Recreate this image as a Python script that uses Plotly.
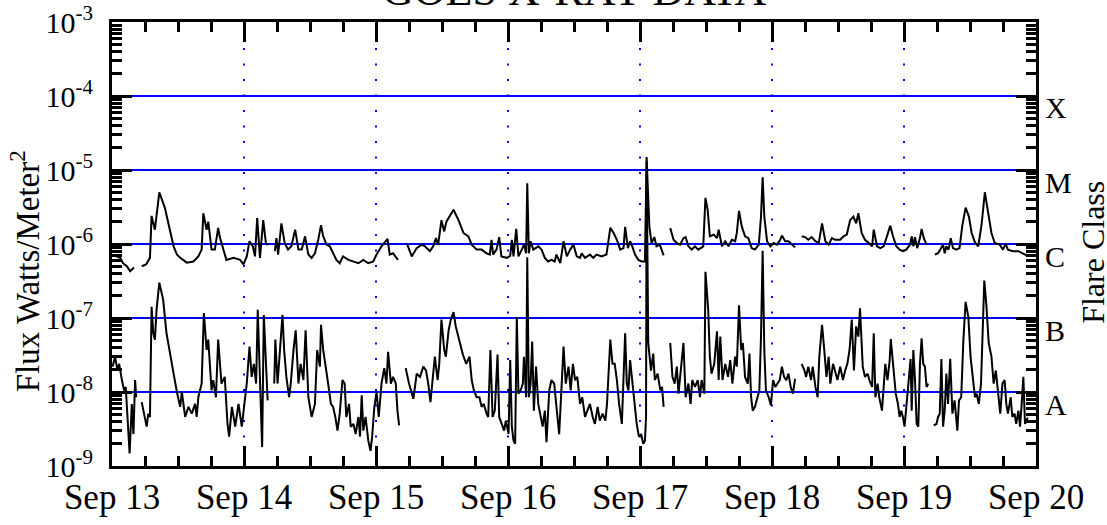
import math
import pandas as pd
import plotly.graph_objects as go

# ---------------- data (hours since Sep 13 00:00, flux W/m^2) ----------------
long_hours = [0.0, 1.5, 2.0, 2.7, 3.3, 4.0, 4.7,
    5.4, 6.2, 6.9, 7.2, 7.8, 8.6, 9.6, 10.5, 11.2, 11.8, 12.4, 13.6, 14.8, 15.7, 16.3, 16.6, 17.2, 17.5,
    18.1, 18.7, 19.3, 19.6, 20.2, 20.8, 22.1, 23.3, 23.9, 24.5, 25.0, 25.6, 26.0, 26.4, 26.9, 27.5, 28.0, 28.4, 28.9,
    29.6, 29.9, 30.2, 30.8, 31.4, 32.0, 32.6, 33.3, 33.9, 34.5, 35.1, 35.7, 36.3, 36.9, 37.5, 38.0, 38.4,
    39.0, 39.6, 40.2, 40.8, 41.4, 42.0, 43.0, 43.9, 44.8, 45.7, 46.6, 47.5, 48.1, 49.0, 50.1, 50.5, 51.1, 52.0, 52.7,
    53.6, 54.5, 55.4, 56.3, 56.9, 57.8, 58.4, 58.9, 59.3, 59.9, 60.4, 60.8, 62.1, 63.0, 63.9, 64.8, 65.4,
    66.3, 67.2, 68.1, 68.7, 69.0, 69.3, 69.9, 70.4, 70.8, 71.8, 72.4, 72.7, 73.0, 73.5, 73.9, 74.5, 74.9,
    75.3, 75.5, 75.8, 76.1, 76.6, 77.5, 78.1, 78.7, 79.3, 79.9, 80.5, 80.8, 81.5, 82.1, 82.7, 83.3, 83.9,
    84.5, 85.1, 85.4, 86.0, 86.9, 87.5, 88.1, 89.0, 89.9, 90.6, 91.2, 91.8, 92.4, 93.0, 93.3, 93.8, 94.2,
    94.6, 95.1, 95.7, 96.3, 96.9, 97.2, 97.7, 98.1, 98.6, 99.0, 99.6, 100.3, 100.9,
    101.5, 102.1, 102.7, 103.3, 103.9, 104.3, 104.8, 105.4, 106.0, 106.6, 107.5, 107.9, 108.3, 108.7,
    109.4, 110.0, 110.3, 110.9, 111.5, 112.1, 112.7, 113.3, 113.6, 114.0, 114.5, 115.1, 115.7, 116.3,
    116.9, 117.6, 118.0, 118.3, 118.6, 119.1, 119.7, 120.3, 120.9, 121.5, 121.8, 122.4, 123.0, 123.6, 124.2, 124.8,
    125.4, 126.0, 126.6, 127.2, 127.9, 128.5, 129.1, 129.7, 130.3, 130.9, 131.5, 132.4, 133.0, 133.6,
    134.2, 134.8, 135.3, 135.7, 136.3, 136.9, 137.6, 138.2, 138.5, 139.1, 139.7, 140.3, 140.9, 141.5,
    142.0, 142.6, 143.2, 143.8, 144.4, 145.1, 145.4, 145.7, 146.0, 146.4, 146.9, 147.2, 147.6, 148.1, 148.8,
    149.6, 150.2, 150.6, 151.1, 151.4, 151.7, 152.1, 152.5, 152.9, 153.5, 154.1, 154.6, 155.2, 155.8,
    156.3, 156.9, 157.5, 158.1, 158.7, 159.3, 159.9, 160.5, 161.4, 162.0, 162.5, 162.9, 163.8, 164.8,
    165.4, 166.0, 166.6]
long_flux = [7.2e-7, 6.5e-7, 5.5e-7, 5.0e-7, 4.3e-7, 4.8e-7, None,
    5.0e-7, 5.3e-7, 6.5e-7, 2.4e-6, 1.56e-6, 5.0e-6, 3.1e-6, 1.56e-6, 9.3e-7, 7.2e-7, 6.5e-7, 5.6e-7, 5.8e-7, 6.8e-7, 8.4e-7, 2.6e-6, 1.56e-6, 2.0e-6,
    8.4e-7, 8.4e-7, 1.65e-6, 1.24e-6, 8.4e-7, 6.1e-7, 6.5e-7, 6.1e-7, 5.3e-7, 6.8e-7, 1.09e-6, 9.3e-7, 6.8e-7, 2.25e-6, 6.5e-7, 2.1e-6, 1.0e-6, 9.8e-7, None,
    8.0e-7, 1.2e-6, 7.2e-7, 1.9e-6, 1.03e-6, 8.4e-7, 9.3e-7, 1.56e-6, 8.4e-7, 8.4e-7, 1.27e-6, 7.2e-7, 6.5e-7, 7.5e-7, 1.14e-6, 1.8e-6, 1.27e-6,
    9.8e-7, 9.3e-7, 7.5e-7, 6.1e-7, 5.5e-7, 6.8e-7, 6.1e-7, 5.8e-7, 5.5e-7, 6.1e-7, 5.5e-7, 5.8e-7, 7.2e-7, 9.3e-7, 1.17e-6, 7.2e-7, 7.5e-7, 6.1e-7, None,
    1.03e-6, 6.8e-7, 8.8e-7, 9.8e-7, 9.3e-7, 8.0e-7, 9.3e-7, 1.2e-6, 9.8e-7, 2.1e-6, 1.48e-6, 2.0e-6, 2.9e-6, 2.1e-6, 1.41e-6, 1.27e-6, 9.8e-7,
    8.4e-7, 8.4e-7, 7.5e-7, 7.2e-7, 1.14e-6, 7.2e-7, 8.4e-7, 1.24e-6, 6.8e-7, 6.5e-7, 6.9e-7, 1.14e-6, 6.8e-7, 1.6e-6, 6.8e-7, 8.4e-7, 9.8e-7,
    7.5e-7, 6.6e-6, 7.5e-7, 1.09e-6, 8.4e-7, 9.3e-7, 8.4e-7, 6.5e-7, 5.8e-7, 6.1e-7, 5.8e-7, 7.2e-7, 5.5e-7, 1.09e-6, 6.8e-7, 8.4e-7, 9.8e-7,
    6.8e-7, 6.5e-7, 7.5e-7, 6.5e-7, 7.2e-7, 6.5e-7, 7.2e-7, 6.8e-7, 7.2e-7, 1.65e-6, 1.41e-6, 1.14e-6, 8.4e-7, 8.8e-7, 1.7e-6, 8.8e-7, 1.09e-6,
    9.3e-7, 7.2e-7, 6.1e-7, 5.8e-7, 5.8e-7, 1.5e-5, 1.73e-6, 1.03e-6, 1.24e-6, 9.3e-7, 9.8e-7, 7.0e-7, None,
    1.65e-6, 1.14e-6, 1.03e-6, 9.8e-7, 1.2e-6, 1.24e-6, 9.3e-7, 8.4e-7, 9.3e-7, 8.4e-7, 9.3e-7, 4.2e-6, 2.9e-6, 1.27e-6,
    1.34e-6, 1.2e-6, 1.56e-6, 9.3e-7, 1.09e-6, 9.3e-7, 1.14e-6, 1.09e-6, 1.41e-6, 2.8e-6, 1.73e-6, 1.27e-6, 1.2e-6, 8.8e-7,
    8.4e-7, 9.8e-7, 2.35e-6, 8.0e-6, 2.35e-6, 1.09e-6, 9.3e-7, 1.03e-6, 9.8e-7, 1.14e-6, 1.3e-6, 1.09e-6, 1.09e-6, 9.8e-7, 9.0e-7, None,
    1.27e-6, 1.24e-6, 1.14e-6, 1.24e-6, 1.09e-6, 1.03e-6, 1.9e-6, 1.09e-6, 9.8e-7, 1.2e-6, 1.14e-6, 1.14e-6, 1.27e-6, 1.34e-6,
    2.1e-6, 2.35e-6, 1.9e-6, 2.6e-6, 1.41e-6, 1.14e-6, 1.03e-6, 9.3e-7, 1.56e-6, 9.3e-7, 8.8e-7, 9.3e-7, 1.27e-6, 1.77e-6,
    1.27e-6, 9.3e-7, 8.4e-7, 8.0e-7, 8.4e-7, 9.8e-7, 1.27e-6, 9.3e-7, 1.24e-6, 8.8e-7, 1.2e-6, 1.6e-6, 1.2e-6, 9.8e-7, None,
    7.2e-7, 7.5e-7, 8.4e-7, 9.8e-7, 7.5e-7, 9.3e-7, 8.4e-7, 1.2e-6, 8.8e-7, 8.4e-7, 8.8e-7, 1.77e-6, 3.1e-6, 2.35e-6,
    1.41e-6, 1.05e-6, 9.3e-7, 1.82e-6, 5.0e-6, 2.6e-6, 1.41e-6, 1.03e-6, 9.8e-7, 8.4e-7, 1.0e-6, 8.4e-7, 8.0e-7, 8.0e-7,
    7.5e-7, 7.2e-7, 7.0e-7]

short_hours = [0.1, 0.55, 1.0, 1.3, 1.8, 2.2, 2.5, 2.8, 3.2, 3.6, 3.9, 4.2, 4.4, 4.9,
    5.4, 5.7, 6.3, 6.6, 6.9, 7.2, 7.5, 7.8, 8.1, 8.6, 9.3, 9.9, 10.5, 11.2, 11.8, 12.4, 12.7, 13.3, 13.9,
    14.5, 15.1, 15.4, 15.7, 16.3, 16.7, 17.2, 17.5, 18.1, 18.4, 18.9, 19.3, 19.9, 20.5, 21.0, 21.3, 21.8,
    22.4, 23.0, 23.6, 23.9, 24.2, 24.5, 25.0, 25.4, 25.8, 26.2, 26.5, 27.0, 27.3, 27.6, 28.1, 28.3, 28.9,
    29.5, 29.7, 30.1, 30.5, 31.0, 31.3, 31.7, 32.2, 32.5, 33.0, 33.4, 33.9, 34.3, 34.8, 35.2, 35.7, 36.3,
    36.9, 37.3, 37.8, 38.0, 38.4, 38.8, 39.3, 39.8, 40.2, 40.6, 41.0, 41.4, 41.9, 42.3, 42.6, 43.1, 43.4,
    43.9, 44.3, 44.8, 45.1, 45.4, 45.7, 46.1, 46.6, 47.0, 47.3, 47.7, 48.1, 48.5, 49.0, 49.5, 49.9, 50.2,
    50.7, 51.1, 51.6, 51.9, 52.2, 52.8,
    53.4, 54.0, 54.8, 55.4, 56.0, 56.6, 57.1, 57.5, 57.9, 58.3, 58.7, 59.2, 59.5, 59.9, 60.4, 60.7, 61.2,
    61.6, 62.1, 62.5, 63.2, 63.8, 64.4, 65.0, 65.4, 65.8, 66.3, 66.8, 67.2, 67.6, 68.1, 68.4, 68.8, 69.2,
    69.6, 70.1, 70.4, 70.8, 71.3, 71.6, 72.1, 72.4, 72.7, 73.0, 73.3, 73.6, 73.9, 74.3, 74.7, 74.9, 75.3,
    75.5, 75.8, 76.1, 76.4, 76.7, 77.1, 77.5, 77.9, 78.3, 78.7, 79.0, 79.5, 79.9, 80.4, 80.8, 81.3, 81.8,
    82.1, 82.5, 83.0, 83.4, 83.8, 84.2, 84.6, 85.1, 85.5, 86.0, 86.5, 86.9, 87.4, 87.8, 88.3, 88.7, 89.2,
    89.7, 90.0, 90.3, 90.6, 91.0, 91.4, 91.8, 92.2, 92.7, 93.0, 93.3, 93.6, 93.9, 94.2, 94.6, 95.0, 95.4,
    95.8, 96.2, 96.6, 96.9, 97.1, 97.2, 97.5, 98.0, 98.4, 98.7, 99.2, 99.7, 100.0, 100.3, 100.9,
    101.5, 101.9, 102.3, 102.7, 103.0, 103.5, 103.9, 104.3, 104.8, 105.2, 105.5, 106.0, 106.5, 106.9,
    107.2, 107.7, 107.9, 108.4, 108.7, 109.0, 109.5, 110.0, 110.3, 110.6, 111.0, 111.5, 112.0, 112.4,
    112.8, 113.3, 113.6, 114.0, 114.4, 114.7, 115.1, 115.6, 115.9, 116.2, 116.5, 116.9, 117.4, 117.7,
    118.0, 118.3, 118.6, 118.9, 119.4, 119.8, 120.2, 120.6, 121.0, 121.4, 121.8, 122.2, 122.6, 123.0,
    123.4, 123.8, 124.2, 124.8,
    125.4, 125.9, 126.2, 126.6, 127.1, 127.4, 127.9, 128.3, 128.6, 129.1, 129.5, 129.9, 130.3, 130.6,
    131.1, 131.5, 131.9, 132.4, 132.9, 133.3, 133.7, 134.1, 134.5, 134.9, 135.3, 135.7, 136.0, 136.5,
    136.9, 137.4, 137.7, 138.2, 138.5, 138.8, 139.2, 139.5, 140.0, 140.3, 140.6, 141.0, 141.4, 141.6,
    141.9, 142.1, 142.5, 142.9, 143.2, 143.5, 143.8, 144.1, 144.4, 144.8, 145.2, 145.4, 145.7, 146.0,
    146.3, 146.6, 146.9, 147.2, 147.5, 147.8, 148.1, 148.4, 148.9,
    149.4, 149.9, 150.2, 150.5, 150.8, 151.1, 151.4, 151.7, 152.0, 152.4, 152.8, 153.2, 153.7, 154.0,
    154.4, 154.8, 155.2, 155.7, 156.1, 156.6, 156.9, 157.2, 157.6, 158.0, 158.3, 158.6, 159.0, 159.4,
    159.9, 160.3, 160.7, 161.1, 161.5, 161.9, 162.3, 162.6, 162.9, 163.4, 163.7, 164.1, 164.4, 164.8,
    165.1, 165.4, 165.7, 166.0, 166.5]
short_flux = [2.2e-8, 3.0e-8, 1.95e-8, 2.4e-8, 1.45e-8, 1.05e-8, 1.17e-8, 4.6e-9, 1.48e-9, 6.9e-9, 2.7e-9, 1.45e-8, 8.5e-9, None,
    7.3e-9, 5.6e-9, 3.4e-9, 5.1e-9, 4.6e-9, 1.42e-7, 6.3e-8, 5.1e-8, 1.29e-7, 3.0e-7, 1.77e-7, 6.3e-8, 3.7e-8, 1.77e-8, 1.0e-8, 6.3e-9, 1.0e-8, 4.6e-9, 6.3e-9,
    5.1e-9, 6.9e-9, 4.6e-9, 8.5e-9, 1.3e-8, 1.17e-7, 3.7e-8, 5.1e-8, 1.05e-8, 1.45e-8, 8.5e-9, 5.1e-8, 1.3e-8, 1.6e-8, 3.7e-9, 2.5e-9, 6.3e-9,
    3.4e-9, 6.9e-9, 3.4e-9, 5.1e-9, 9.0e-9, 1.3e-8, 4.1e-8, 1.6e-8, 2.4e-8, 1.3e-8, 1.29e-7, 6.9e-9, 1.8e-9, 1.1e-7, 1.3e-8, 7.7e-9, None,
    1.3e-8, 5.1e-8, 1.3e-8, 3.7e-8, 1.1e-7, 3.7e-8, 1.6e-8, 8.5e-9, 1.3e-8, 3.7e-8, 6.8e-8, 1.3e-8, 2.4e-8, 1.45e-8, 6.8e-8, 8.5e-9, 4.6e-9,
    6.9e-9, 3.7e-8, 2.2e-8, 8.1e-8, 3.7e-8, 2.4e-8, 1.3e-8, 6.9e-9, 6.3e-9, 4.6e-9, 3.0e-9, 5.1e-9, 1.45e-8, 1.3e-8, 4.6e-9, 6.9e-9, 3.4e-9,
    3.7e-9, 2.7e-9, 4.6e-9, 2.5e-9, 9.0e-9, 3.0e-9, 4.6e-9, 2.2e-9, 1.6e-9, 2.5e-9, 6.3e-9, 1.0e-8, 4.6e-9, 1.3e-8, 2.1e-8, 1.3e-8, 3.5e-8,
    1.3e-8, 1.6e-8, 1.3e-8, 5.6e-9, 3.55e-9, None,
    2.1e-8, 1.3e-8, 8.1e-9, 1.77e-8, 1.6e-8, 2.2e-8, 1.95e-8, 1.3e-8, 7.3e-9, 1.45e-8, 3.0e-8, 1.45e-8, 2.4e-8, 9.5e-8, 3.7e-8, 3.0e-8, 6.8e-8,
    9.5e-8, 1.2e-7, 7.7e-8, 4.6e-8, 3.2e-8, 2.4e-8, 3.0e-8, 1.45e-8, 1.05e-8, 8.5e-9, 8.5e-9, 6.3e-9, 6.9e-9, 5.1e-9, 4.6e-9, 3.7e-8, 4.6e-9,
    5.6e-9, 3.2e-8, 4.6e-9, 3.7e-9, 3.0e-9, 4.1e-9, 2.7e-9, 2.7e-8, 3.4e-9, 2.2e-9, 2.0e-9, 1.03e-7, 9.5e-9, 1.05e-8, 1.3e-8, 3.0e-8, 8.5e-9,
    6.6e-7, 8.5e-9, 1.3e-8, 4.8e-8, 5.6e-9, 2.2e-8, 6.9e-9, 4.6e-9, 3.4e-9, 5.6e-9, 2.1e-9, 1.05e-8, 1.45e-8, 1.3e-8, 6.9e-9, 2.7e-9, 1.45e-8,
    4.1e-8, 1.3e-8, 2.2e-8, 1.05e-8, 2.4e-8, 1.45e-8, 1.6e-8, 6.9e-9, 8.5e-9, 4.6e-9, 5.6e-9, 6.9e-9, 4.6e-9, 3.7e-9, 6.3e-9, 4.1e-9, 5.1e-9,
    4.1e-9, 6.9e-9, 2.4e-8, 5.1e-8, 2.4e-8, 2.4e-8, 1.45e-8, 6.9e-9, 3.7e-9, 1.3e-8, 6.2e-8, 1.3e-8, 1.05e-8, 2.7e-8, 1.3e-8, 6.9e-9, 3.7e-9,
    2.5e-9, 2.7e-9, 2.0e-9, 2.2e-9, 4.6e-9, 1.3e-5, 4.6e-8, 1.95e-8, 3.3e-8, 1.45e-8, 1.77e-8, 1.05e-8, 1.17e-8, 6.3e-9, None,
    4.6e-8, 1.6e-8, 1.3e-8, 2.2e-8, 9.5e-9, 2.4e-8, 4.6e-8, 8.5e-9, 1.3e-8, 6.9e-9, 1.45e-8, 1.17e-8, 1.45e-8, 8.5e-9,
    1.45e-8, 9.5e-9, 4.2e-7, 1.29e-7, 3.0e-8, 1.77e-8, 2.4e-8, 6.6e-8, 1.45e-8, 5.6e-8, 1.45e-8, 2.4e-8, 1.6e-8, 2.7e-8,
    1.3e-8, 3.0e-8, 2.2e-8, 1.48e-7, 3.7e-8, 4.6e-8, 1.6e-8, 1.3e-8, 3.3e-8, 8.5e-9, 5.6e-9, 6.3e-9, 8.5e-9, 1.05e-8,
    5.6e-8, 8.1e-7, 3.7e-8, 1.05e-8, 8.5e-9, 6.6e-9, 1.45e-8, 1.17e-8, 1.3e-8, 1.45e-8, 2.2e-8, 1.6e-8, 1.45e-8, 1.77e-8,
    1.17e-8, 9.5e-9, 1.5e-8, None,
    2.4e-8, 1.95e-8, 1.6e-8, 2.2e-8, 1.45e-8, 2.2e-8, 1.17e-8, 8.5e-9, 3.0e-8, 8.1e-8, 3.7e-8, 1.6e-8, 3.0e-8, 1.3e-8,
    2.4e-8, 1.77e-8, 1.45e-8, 2.2e-8, 1.45e-8, 1.95e-8, 2.4e-8, 3.7e-8, 9.5e-8, 1.95e-8, 7.7e-8, 5.6e-8, 1.35e-7, 2.2e-8,
    1.6e-8, 1.77e-8, 1.45e-8, 1.17e-8, 6.2e-8, 8.5e-9, 1.3e-8, 8.5e-9, 5.6e-9, 1.17e-8, 2.4e-8, 1.45e-8, 2.7e-8, 5.2e-8,
    3.0e-8, 2.2e-8, 9.5e-9, 6.9e-9, 4.6e-9, 5.6e-9, 4.6e-9, 3.4e-9, 6.9e-9, 1.3e-8, 2.8e-8, 5.6e-9, 3.7e-8, 1.45e-8,
    3.7e-9, 3.4e-9, 2.4e-8, 5.3e-8, 2.4e-8, 2.2e-8, 1.17e-8, 1.3e-8, None,
    3.55e-9, 3.7e-9, 4.6e-9, 5.1e-9, 2.8e-8, 3.4e-9, 5.6e-9, 1.77e-8, 6.9e-9, 2.8e-8, 5.1e-9, 7.7e-9, 3.0e-9, 7.7e-9,
    8.5e-9, 5.1e-8, 1.65e-7, 1.03e-7, 3.0e-8, 1.45e-8, 8.5e-9, 9.5e-9, 6.9e-9, 1.3e-8, 7.7e-8, 3.2e-7, 1.42e-7, 4.6e-8,
    3.0e-8, 1.3e-8, 1.95e-8, 1.05e-8, 5.1e-9, 1.3e-8, 1.45e-8, 6.9e-9, 5.1e-9, 8.5e-9, 4.6e-9, 5.1e-9, 3.7e-9, 5.6e-9,
    3.4e-9, 6.9e-9, 1.6e-8, 3.7e-9, 4.5e-9]

day_labels = ["Sep 13", "Sep 14", "Sep 15", "Sep 16", "Sep 17", "Sep 18", "Sep 19", "Sep 20"]
class_levels = [1e-8, 1e-7, 1e-6, 1e-5, 1e-4]
class_names = ["A", "B", "C", "M", "X"]
decades = [1e-9, 1e-8, 1e-7, 1e-6, 1e-5, 1e-4, 1e-3]
decade_labels = ["10<sup>-9</sup>", "10<sup>-8</sup>", "10<sup>-7</sup>", "10<sup>-6</sup>",
                 "10<sup>-5</sup>", "10<sup>-4</sup>", "10<sup>-3</sup>"]

# ---------------- figure ----------------
start = pd.Timestamp("2005-09-13")
def to_time(hours):
    return [start + pd.Timedelta(hours=h) for h in hours]

day_times = [start + pd.Timedelta(days=i) for i in range(len(day_labels))]
FONT = "Liberation Serif"
BLUE = "#0000ff"

fig = go.Figure()

# blue horizontal class lines
for lvl in class_levels:
    fig.add_trace(go.Scatter(x=[day_times[0], day_times[-1]], y=[lvl, lvl], mode="lines",
                             line=dict(color=BLUE, width=2), hoverinfo="skip", showlegend=False))
# dotted day lines (drawn from the bottom up)
for t in day_times[1:-1]:
    fig.add_trace(go.Scatter(x=[t, t], y=[10 ** -9.034, 1e-3], mode="lines",
                             line=dict(color=BLUE, width=2, dash="2px,13.5px"),
                             hoverinfo="skip", showlegend=False))

fig.add_trace(go.Scatter(x=to_time(long_hours), y=long_flux, mode="lines",
                         line=dict(color="black", width=2), connectgaps=False, showlegend=False))
fig.add_trace(go.Scatter(x=to_time(short_hours), y=short_flux, mode="lines",
                         line=dict(color="black", width=2), connectgaps=False, showlegend=False))

fig.update_layout(
    width=1107, height=525,
    margin=dict(l=112, r=71, t=22, b=59),
    paper_bgcolor="white", plot_bgcolor="white",
    font=dict(family=FONT, color="black", size=33),
    showlegend=False,
)

fig.update_xaxes(
    range=[day_times[0], day_times[-1]], automargin=False,
    tickmode="array", tickvals=day_times, ticktext=day_labels,
    showgrid=False, zeroline=False,
    showline=True, linecolor="black", linewidth=3, mirror="allticks",
    ticks="inside", ticklen=20, tickwidth=3, tickcolor="black",
    ticklabelstandoff=-2, ticklabeloverflow="allow",
    tickfont=dict(family=FONT, size=35, color="black"),
    minor=dict(ticks="inside", ticklen=10, tickwidth=3, tickcolor="black",
               dtick=6 * 3600 * 1000, showgrid=False),
)
fig.update_yaxes(
    type="log", range=[-9, -3], automargin=False,
    tickmode="array", tickvals=decades, ticktext=decade_labels,
    showgrid=False, zeroline=False,
    showline=True, linecolor="black", linewidth=3, mirror="allticks",
    ticks="inside", ticklen=20, tickwidth=3, tickcolor="black",
    ticklabelstandoff=10, ticklabeloverflow="allow",
    tickfont=dict(family=FONT, size=30, color="black"),
    minor=dict(ticks="inside", ticklen=10, tickwidth=3, tickcolor="black",
               dtick="D1", showgrid=False),
)

# right-side flare class letters
for lvl, name in zip(class_levels, class_names):
    yp = (math.log10(lvl) + 9) / 6
    fig.add_annotation(text=name, xref="paper", yref="paper", x=1.0076, y=yp,
                       xanchor="left", yanchor="middle", yshift=-12, showarrow=False,
                       font=dict(family=FONT, size=30, color="black"))

fig.add_annotation(text="Flare Class", xref="paper", yref="paper", x=1.0615, y=0.482,
                   xanchor="center", yanchor="middle", textangle=-90, showarrow=False,
                   font=dict(family=FONT, size=32, color="black"))
fig.add_annotation(text="Flux Watts/Meter<sup>2</sup>", xref="paper", yref="paper", x=-0.094, y=0.439,
                   xanchor="center", yanchor="middle", textangle=-90, showarrow=False,
                   font=dict(family=FONT, size=33, color="black"))
fig.add_annotation(text="GOES X-RAY DATA", xref="paper", yref="paper", x=0.501, y=1.072,
                   xanchor="center", yanchor="middle", showarrow=False,
                   font=dict(family=FONT, size=44, color="black"))

# remove the default 8px page margin so the figure sits at the window's top-left corner
fig.write_html("out.html", config={"displayModeBar": False},
               post_script="document.body.style.margin='0';")
